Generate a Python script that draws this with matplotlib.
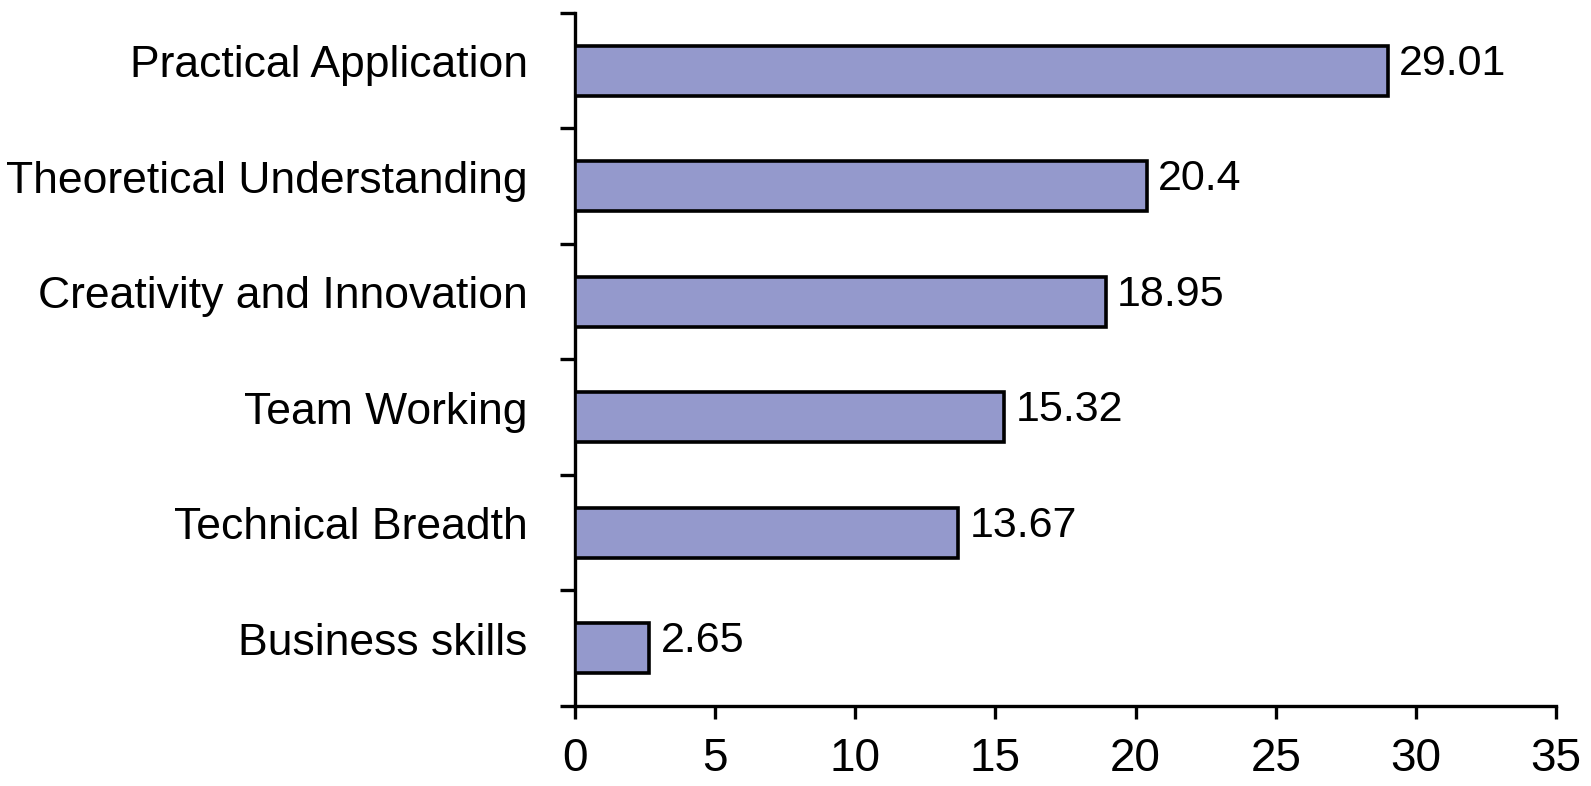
import matplotlib
matplotlib.use("Agg")
import matplotlib.pyplot as plt
import matplotlib.transforms as mtransforms

# --- Data ---
categories = ["Practical Application", "Theoretical Understanding",
              "Creativity and Innovation", "Team Working",
              "Technical Breadth", "Business skills"]
values = [29.01, 20.4, 18.95, 15.32, 13.67, 2.65]
value_labels = ["29.01", "20.4", "18.95", "15.32", "13.67", "2.65"]
xticks = [0, 5, 10, 15, 20, 25, 30, 35]

plt.rcParams["font.family"] = ["Liberation Sans", "DejaVu Sans"]

fig = plt.figure(figsize=(15.91, 7.86), dpi=100)
ax = fig.add_axes([0.3614, 0.1018, 0.9780 - 0.3614, 0.9835 - 0.1018])

ypos = list(range(len(categories)))[::-1]
ax.barh(ypos, values, height=0.43, color="#9499CC", edgecolor="black",
        linewidth=2.6, zorder=3)

for y, v, lab in zip(ypos, values, value_labels):
    ax.annotate(lab, (v, y), xytext=(8, 5), textcoords="offset points",
                va="center", ha="left", fontsize=31)

ax.set_xlim(0, 35)
ax.set_ylim(-0.5, len(categories) - 0.5)
ax.set_xticks(xticks)
ax.set_xticklabels([str(t) for t in xticks], fontsize=33)

# category labels next to bars, ticks between bars
ax.set_yticks(ypos)
ax.set_yticklabels(categories, fontsize=32)
ax.tick_params(axis="y", length=0, pad=34)
shift = mtransforms.ScaledTranslation(0, 7 / 72, fig.dpi_scale_trans)
for lbl in ax.get_yticklabels():
    lbl.set_transform(lbl.get_transform() + shift)
ax.set_yticks([y - 0.5 for y in range(len(categories) + 1)], minor=True)
ax.tick_params(axis="y", which="minor", length=11, width=2.4)
ax.tick_params(axis="x", length=9.5, width=2.4, pad=13)

for side in ["top", "right"]:
    ax.spines[side].set_visible(False)
for side in ["left", "bottom"]:
    ax.spines[side].set_linewidth(2.4)

fig.savefig("out.png", dpi=100)
